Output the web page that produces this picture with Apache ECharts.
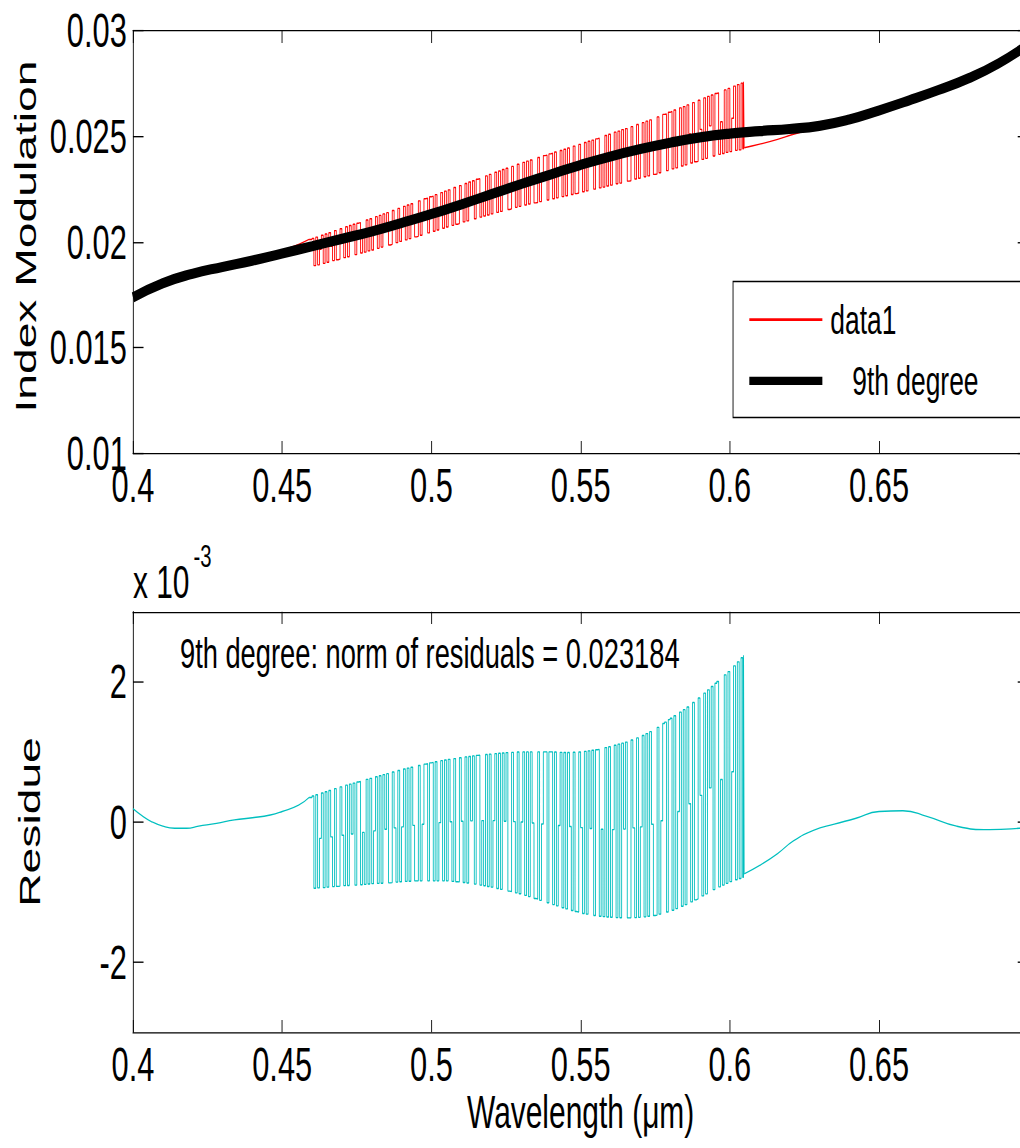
<!DOCTYPE html>
<html>
<head>
<meta charset="utf-8">
<script src="https://cdn.jsdelivr.net/npm/echarts@6/dist/echarts.min.js"></script>
<style>
html { overflow: hidden; }
body { margin: 0; padding: 0; width: 1020px; height: 1148px; background: #fff; }
/* the source figure was stretched: tall, narrow text. draw at a plain size, then stretch the same way */
#chart { width: 1190px; height: 844px; transform: scale(0.88, 1.36); transform-origin: 0 0; }
</style>
</head>
<body>
<div id="chart"></div>
<script>
var FONT = "'Liberation Sans', Arial, Helvetica, sans-serif";

// 9th degree fit (top plot)
var fitX = [0.40,0.41,0.42,0.43,0.44,0.45,0.46,0.47,0.48,0.49,0.50,0.51,0.52,0.53,0.54,0.55,
            0.56,0.57,0.58,0.59,0.60,0.61,0.62,0.63,0.64,0.65,0.66,0.67,0.68,0.69,0.70];
var fitY = [0.01738,0.01805,0.01850,0.01882,0.01912,0.01946,0.01980,0.02015,0.02050,0.02090,
            0.02132,0.02178,0.02226,0.02274,0.02320,0.02365,0.02405,0.02440,0.02470,0.02495,
            0.02513,0.02525,0.02535,0.02550,0.02580,0.02623,0.02670,0.02720,0.02775,0.02845,0.02935];

// data1, smooth stretches either side of the noisy band
var redLeftX = [0.400,0.410,0.420,0.430,0.440,0.450,0.4555,0.459];
var redLeftY = [0.01757,0.01799,0.01843,0.01883,0.01917,0.01961,0.01989,0.02012];
var redRightX = [0.6048,0.610,0.616,0.6213,0.628,0.635,0.642,0.650,0.658,0.666,0.676,0.687,0.697,0.700];
var redRightY = [0.02446,0.02463,0.02486,0.02510,0.02535,0.02559,0.02592,0.02638,0.02676,0.02708,
                 0.02747,0.02811,0.02899,0.02928];

// noisy band, shared wavelengths (um)
var zigX = [0.459,
  0.46,0.460625,0.46125,0.461875,0.4625,0.463125,0.46375,0.464375,
  0.465,0.465625,0.46625,0.466875,0.4675,0.468125,0.46875,0.469375,
  0.47,0.470625,0.47125,0.471875,0.4725,0.473125,0.47375,0.474375,
  0.475,0.475625,0.47625,0.476875,0.4775,0.478125,0.47875,0.479375,
  0.48,0.480625,0.48125,0.481875,0.4825,0.483125,0.48375,0.484375,
  0.485,0.485625,0.48625,0.486875,0.4875,0.488125,0.48875,0.489375,
  0.49,0.490625,0.49125,0.491875,0.4925,0.493125,0.49375,0.494375,
  0.495,0.495625,0.49625,0.496875,0.4975,0.498125,0.49875,0.499375,
  0.5,0.500625,0.50125,0.501875,0.5025,0.503125,0.50375,0.504375,
  0.505,0.505625,0.50625,0.506875,0.5075,0.508125,0.50875,0.509375,
  0.51,0.510625,0.51125,0.511875,0.5125,0.513125,0.51375,0.514375,
  0.515,0.515625,0.51625,0.516875,0.5175,0.518125,0.51875,0.519375,
  0.52,0.520625,0.52125,0.521875,0.5225,0.523125,0.52375,0.524375,
  0.525,0.525625,0.52625,0.526875,0.5275,0.528125,0.52875,0.529375,
  0.53,0.530625,0.53125,0.531875,0.5325,0.533125,0.53375,0.534375,
  0.535,0.535625,0.53625,0.536875,0.5375,0.538125,0.53875,0.539375,
  0.54,0.540625,0.54125,0.541875,0.5425,0.543125,0.54375,0.544375,
  0.545,0.545625,0.54625,0.546875,0.5475,0.548125,0.54875,0.549375,
  0.55,0.550625,0.55125,0.551875,0.5525,0.553125,0.55375,0.554375,
  0.555,0.555625,0.55625,0.556875,0.5575,0.558125,0.55875,0.559375,
  0.56,0.560625,0.56125,0.561875,0.5625,0.563125,0.56375,0.564375,
  0.565,0.565625,0.56625,0.566875,0.5675,0.568125,0.56875,0.569375,
  0.57,0.570625,0.57125,0.571875,0.5725,0.573125,0.57375,0.574375,
  0.575,0.575625,0.57625,0.576875,0.5775,0.578125,0.57875,0.579375,
  0.58,0.580625,0.58125,0.581875,0.5825,0.583125,0.58375,0.584375,
  0.585,0.585625,0.58625,0.586875,0.5875,0.588125,0.58875,0.589375,
  0.59,0.590625,0.59125,0.591875,0.5925,0.593125,0.59375,0.594375,
  0.595,0.595625,0.59625,0.596875,0.5975,0.598125,0.59875,0.599375,
  0.6,0.600625,0.60125,0.601875,0.6025,0.603125,0.60375,
  0.6043,0.6046,0.6048];
var redZigY = [0.02012,
  0.02017,0.01888,0.02023,0.01892,0.01966,0.02032,0.01899,0.02038,
  0.01904,0.02044,0.01980,0.01912,0.02054,0.01916,0.01919,0.02063,
  0.01996,0.01926,0.02072,0.01930,0.02078,0.02009,0.02084,0.01940,
  0.02089,0.02092,0.01948,0.02024,0.01952,0.02104,0.01958,0.02110,
  0.01962,0.02040,0.02120,0.01970,0.02126,0.01976,0.02133,0.02058,
  0.02139,0.01986,0.01989,0.02149,0.02072,0.01997,0.02159,0.02003,
  0.02083,0.02169,0.02010,0.02175,0.02016,0.02181,0.02101,0.02024,
  0.02027,0.02195,0.02032,0.02116,0.02205,0.02207,0.02043,0.02214,
  0.02217,0.02051,0.02224,0.02057,0.02143,0.02234,0.02065,0.02241,
  0.02071,0.02247,0.02161,0.02079,0.02258,0.02084,0.02087,0.02267,
  0.02179,0.02095,0.02277,0.02100,0.02284,0.02195,0.02290,0.02110,
  0.02297,0.02300,0.02118,0.02213,0.02123,0.02313,0.02128,0.02320,
  0.02133,0.02231,0.02330,0.02140,0.02336,0.02145,0.02343,0.02248,
  0.02349,0.02154,0.02157,0.02358,0.02263,0.02164,0.02368,0.02169,
  0.02274,0.02377,0.02175,0.02383,0.02180,0.02388,0.02290,0.02185,
  0.02187,0.02400,0.02191,0.02303,0.02409,0.02411,0.02199,0.02417,
  0.02420,0.02205,0.02426,0.02209,0.02327,0.02433,0.02215,0.02439,
  0.02219,0.02445,0.02342,0.02225,0.02454,0.02229,0.02232,0.02462,
  0.02357,0.02238,0.02471,0.02242,0.02477,0.02369,0.02482,0.02250,
  0.02488,0.02492,0.02256,0.02383,0.02260,0.02504,0.02265,0.02510,
  0.02269,0.02396,0.02520,0.02276,0.02525,0.02279,0.02532,0.02411,
  0.02537,0.02288,0.02290,0.02546,0.02424,0.02298,0.02556,0.02302,
  0.02433,0.02565,0.02309,0.02572,0.02313,0.02578,0.02448,0.02320,
  0.02322,0.02592,0.02328,0.02463,0.02604,0.02606,0.02338,0.02614,
  0.02618,0.02346,0.02625,0.02351,0.02492,0.02635,0.02360,0.02641,
  0.02365,0.02649,0.02512,0.02374,0.02660,0.02380,0.02382,0.02671,
  0.02533,0.02391,0.02682,0.02396,0.02689,0.02550,0.02696,0.02407,
  0.02703,0.02706,0.02415,0.02569,0.02419,0.02720,0.02424,0.02727,
  0.02428,0.02586,0.02738,0.02434,0.02745,0.02436,0.02752,
  0.02441,0.02758,0.02446];

// residuals, in units of 1e-3
var resZigY = [0.35,
  0.37,-0.945,0.388,-0.941,-0.233,0.414,-0.937,0.431,
  -0.93,0.449,-0.213,-0.923,0.475,-0.918,-0.915,0.501,
  -0.19,-0.909,0.525,-0.906,0.54,-0.171,0.555,-0.901,
  0.57,0.578,-0.895,-0.149,-0.89,0.608,-0.885,0.623,
  -0.88,-0.126,0.645,-0.876,0.66,-0.874,0.675,-0.104,
  0.69,-0.868,-0.865,0.713,-0.085,-0.858,0.735,-0.853,
  -0.07,0.756,-0.848,0.769,-0.845,0.781,-0.048,-0.841,
  -0.84,0.806,-0.84,-0.033,0.825,0.831,-0.84,0.844,
  0.85,-0.84,0.86,-0.84,-0.01,0.875,-0.84,0.885,
  -0.84,0.894,0.003,-0.848,0.905,-0.853,-0.855,0.916,
  0.01,-0.864,0.928,-0.871,0.935,0.016,0.943,-0.886,
  0.95,0.953,-0.90,0.02,-0.91,0.963,-0.92,0.968,
  -0.93,0.019,0.975,-0.949,0.98,-0.961,0.985,0.011,
  0.99,-0.986,-0.993,0.994,0.005,-1.011,0.998,-1.024,
  0.0,1.0,-1.048,1.0,-1.065,1.0,-0.015,-1.091,
  -1.10,1.0,-1.118,-0.028,1.0,1.0,-1.153,1.0,
  1.0,-1.179,0.998,-1.196,-0.05,0.994,-1.223,0.991,
  -1.24,0.991,-0.065,-1.263,0.995,-1.278,-1.285,0.999,
  -0.08,-1.305,1.008,-1.315,1.015,-0.093,1.023,-1.335,
  1.03,1.036,-1.345,-0.104,-1.35,1.061,-1.355,1.074,
  -1.36,-0.109,1.095,-1.364,1.11,-1.366,1.125,-0.101,
  1.14,-1.369,-1.368,1.17,-0.085,-1.364,1.20,-1.361,
  -0.07,1.234,-1.353,1.261,-1.345,1.289,-0.033,-1.334,
  -1.33,1.349,-1.315,0.018,1.405,1.424,-1.285,1.461,
  1.48,-1.259,1.515,-1.236,0.15,1.568,-1.203,1.603,
  -1.18,1.641,0.26,-1.139,1.705,-1.111,-1.098,1.769,
  0.38,-1.055,1.838,-1.025,1.885,0.486,1.933,-0.965,
  1.98,2.004,-0.925,0.606,-0.90,2.099,-0.875,2.146,
  -0.85,0.716,2.228,-0.824,2.285,-0.807,2.343,
  -0.79,2.38,-0.74];
var resLeftX = [0.400,0.403,0.406,0.410,0.414,0.418,0.422,0.428,0.434,0.440,0.446,0.450,0.4555,0.459];
var resLeftY = [0.19,0.09,0.01,-0.06,-0.09,-0.09,-0.06,-0.02,0.03,0.06,0.10,0.15,0.24,0.35];
var resRightX = [0.6048,0.610,0.616,0.6213,0.628,0.635,0.642,0.650,0.658,0.666,0.676,0.687,0.697,0.700];
var resRightY = [-0.74,-0.62,-0.45,-0.27,-0.12,-0.03,0.05,0.15,0.16,0.08,-0.06,-0.11,-0.09,-0.07];

var resTicks = [-2, 0, 2];

function pairs(xs, ys) {
    return xs.map(function (x, i) { return [x, ys[i]]; });
}

function xAxes(gridIndex, name) {
    var line = { onZero: false, lineStyle: { color: '#000', width: 1 } };
    var tick = { inside: true, length: 9, lineStyle: { color: '#000', width: 1 } };
    return [
        {
            type: 'value', gridIndex: gridIndex, position: 'bottom',
            min: 0.4, max: 0.7, interval: 0.05,
            axisLine: line, axisTick: tick, splitLine: { show: false },
            axisLabel: { fontSize: 35, color: '#000', fontFamily: FONT, margin: 6, showMaxLabel: false },
            name: name, nameLocation: 'middle', nameGap: 41,
            nameTextStyle: { fontSize: 34, color: '#000', fontFamily: FONT }
        },
        {
            type: 'value', gridIndex: gridIndex, position: 'top',
            min: 0.4, max: 0.7, interval: 0.05,
            axisLine: line, axisTick: tick, splitLine: { show: false },
            axisLabel: { show: false }
        }
    ];
}

function yAxes(gridIndex, name, range, custom, namePad) {
    var line = { onZero: false, lineStyle: { color: '#000', width: 1 } };
    var tick = { inside: true, length: 12, lineStyle: { color: '#000', width: 1 } };
    var label = { fontSize: 35, color: '#000', fontFamily: FONT, margin: 7 };
    if (custom) {
        tick.customValues = custom;
        label.customValues = custom;
    }
    var left = {
        type: 'value', gridIndex: gridIndex, position: 'left',
        min: range[0], max: range[1],
        axisLine: line, axisTick: tick, axisLabel: label, splitLine: { show: false },
        name: name, nameLocation: 'middle', nameGap: 100,
        nameTextStyle: { fontSize: 34, color: '#000', fontFamily: FONT, padding: namePad }
    };
    var right = {
        type: 'value', gridIndex: gridIndex, position: 'right',
        min: range[0], max: range[1],
        axisLine: line, axisTick: tick, splitLine: { show: false },
        axisLabel: { show: false }
    };
    if (range[2]) {
        left.interval = range[2];
        right.interval = range[2];
    }
    return [left, right];
}

function lineSeries(name, xi, yi, xs, ys, color, width, extra) {
    var s = {
        type: 'line', name: name, xAxisIndex: xi, yAxisIndex: yi,
        data: pairs(xs, ys), symbol: 'none', showSymbol: false, silent: true,
        lineStyle: { color: color, width: width },
        itemStyle: { color: color }
    };
    for (var k in extra) { s[k] = extra[k]; }
    return s;
}

var FIT_NAME = '   9th degree';

var option = {
    animation: false,
    backgroundColor: '#fff',
    grid: [
        { left: 151.1, right: 21.5, top: 22.6, height: 310.7 },
        { left: 151.1, right: 21.5, top: 449.8, height: 309.2 }
    ],
    xAxis: xAxes(0, '').concat(xAxes(1, 'Wavelength (\u03bcm)')),
    yAxis: yAxes(0, 'Index Modulation', [0.01, 0.03, 0.005], null, [0, 0, 0, 8])
        .concat(yAxes(1, 'Residue', [-3, 3], resTicks, 0)),
    legend: {
        data: [{ name: 'data1' }, { name: FIT_NAME, lineStyle: { width: 6 } }],
        orient: 'vertical', left: 833, top: 207,
        padding: [13, 80, 12, 15.5],
        itemWidth: 83, itemHeight: 30, itemGap: 15,
        backgroundColor: '#fff', borderColor: '#000', borderWidth: 1, borderRadius: 0,
        itemStyle: { opacity: 0 },
        textStyle: { fontSize: 30, color: '#000', fontFamily: FONT, padding: [0, 0, 0, 4] },
        selectedMode: false
    },
    graphic: [
        { type: 'text', x: 151, y: 427.6,
          style: { text: 'x 10', fontSize: 34, fontFamily: FONT, fill: '#000', align: 'left', verticalAlign: 'middle' } },
        { type: 'text', x: 220, y: 408.9,
          style: { text: '-3', fontSize: 23, fontFamily: FONT, fill: '#000', align: 'left', verticalAlign: 'middle' } },
        { type: 'text', x: 204.5, y: 481,
          style: { text: '9th degree: norm of residuals = 0.023184', fontSize: 31, fontFamily: FONT,
                   fill: '#000', align: 'left', verticalAlign: 'middle' } }
    ],
    series: [
        lineSeries('data1', 0, 0, redLeftX, redLeftY, '#ff0000', 1, { smooth: true, z: 2 }),
        lineSeries('data1', 0, 0, zigX, redZigY, '#ff0000', 1, { step: 'end', z: 2 }),
        lineSeries('data1', 0, 0, redRightX, redRightY, '#ff0000', 1, { smooth: true, z: 2 }),
        lineSeries(FIT_NAME, 0, 0, fitX, fitY, '#000', 7.5, { smooth: true, z: 3 }),
        lineSeries('res', 2, 2, resLeftX, resLeftY, '#00bfbf', 1, { smooth: true }),
        lineSeries('res', 2, 2, zigX, resZigY, '#00bfbf', 1, { step: 'end' }),
        lineSeries('res', 2, 2, resRightX, resRightY, '#00bfbf', 1, { smooth: true })
    ]
};

var myChart = echarts.init(document.getElementById('chart'), null, { renderer: 'svg' });
myChart.setOption(option);
</script>
</body>
</html>
